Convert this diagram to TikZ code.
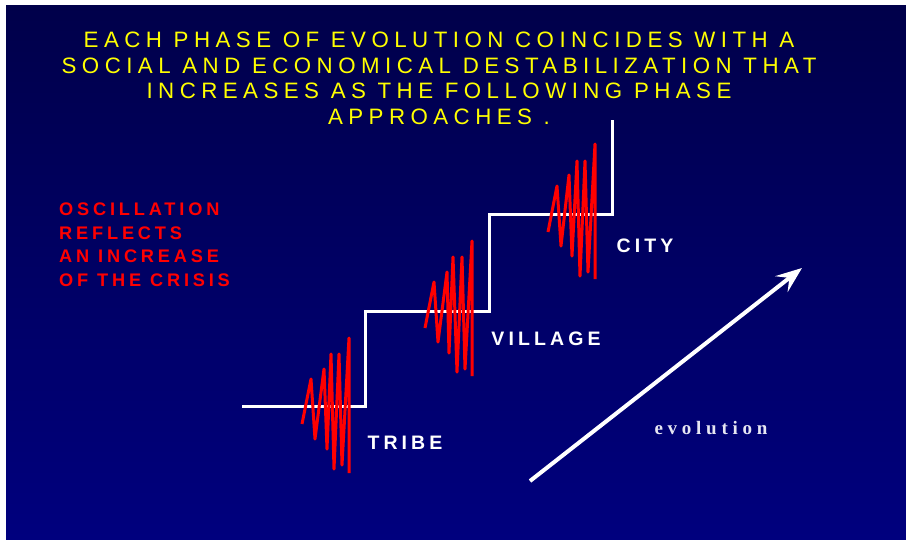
\documentclass[tikz,border=0pt]{standalone}
\usepackage{fontspec}
\usepackage{tikz}
\usetikzlibrary{arrows.meta}
\newfontfamily\titlefont[LetterSpace=24.5]{Liberation Sans}
\newfontfamily\crisisfont[LetterSpace=21]{Liberation Sans}
\newfontfamily\stagefont[LetterSpace=21]{Liberation Sans}
\newfontfamily\evofont[LetterSpace=25]{Liberation Serif}
\definecolor{nighttop}{HTML}{00004A}
\definecolor{nightbot}{HTML}{00007E}
\definecolor{yellowx}{HTML}{FFFF00}
\definecolor{redx}{HTML}{FF0000}
\definecolor{palex}{HTML}{E6E6F2}
\tikzset{
  stair/.style={white,line width=3pt},
  osc/.style={redx,line width=3pt,line join=round},
  evo/.style={-{Stealth[length=26pt,width=20pt,inset=10pt]},white,line width=4pt},
  stage/.style={white,inner sep=0pt,font={\stagefont\bfseries\fontsize{19.5}{20}\selectfont}},
  heading/.style={yellowx,inner sep=0pt,align=center,font={\titlefont\fontsize{22.3}{25.5}\selectfont}},
  crisis/.style={redx,inner sep=0pt,align=left,font={\crisisfont\bfseries\fontsize{18.2}{23.5}\selectfont}}
}
\begin{document}
\begin{tikzpicture}[x=1pt,y=-1pt]
\useasboundingbox (0,0) rectangle (906,539);
\shade[top color=nighttop,bottom color=nightbot] (6,5) rectangle (906,539);
\node[heading,anchor=north] (title) at (439,32) {EACH PHASE OF EVOLUTION COINCIDES WITH A\\SOCIAL AND ECONOMICAL DESTABILIZATION THAT\\INCREASES AS THE FOLLOWING PHASE\\APPROACHES .};
\node[crisis,anchor=north west] (note) at (59,203) {OSCILLATION\\REFLECTS\\AN INCREASE\\OF THE CRISIS};
\draw[stair] (242,406) -- (365,406) -- (365,311) -- (489,311) -- (489,214) -- (612,214) -- (612,120);
\draw[osc] (302,424) -- (311,379) -- (315,439) -- (324,369) -- (327,449) -- (331,354) -- (334,469) -- (339,354) -- (342,465) -- (349,338) -- (349,473);
\draw[osc] (425,328) -- (434,282) -- (438,342) -- (447,272) -- (449,353) -- (453,257) -- (457,372) -- (462,257) -- (465,369) -- (472,241) -- (472,376);
\draw[osc] (548,232) -- (557,186) -- (561,246) -- (569,175) -- (572,256) -- (577,161) -- (580,276) -- (585,161) -- (588,272) -- (595,144) -- (595,279);
\node[stage] (tribe) at (405,443) {TRIBE};
\node[stage] (village) at (546,339) {VILLAGE};
\node[stage] (city) at (645,246) {CITY};
\coordinate (evotail) at (530,481);
\coordinate (evohead) at (802,268);
\draw[evo] (evotail) -- (evohead);
\node[palex,inner sep=0pt,font={\evofont\bfseries\fontsize{19}{20}\selectfont}] (evolabel) at (711,428.5) {evolution};
\end{tikzpicture}
\end{document}
